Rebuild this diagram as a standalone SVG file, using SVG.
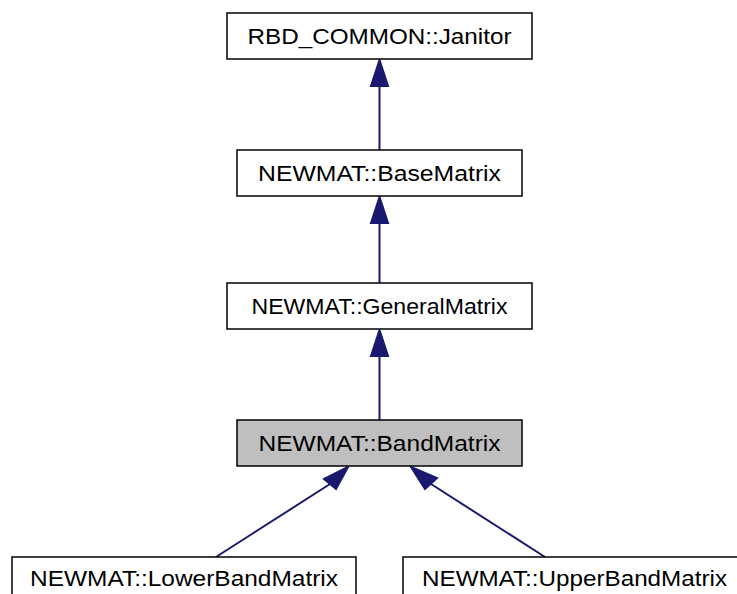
<svg xmlns="http://www.w3.org/2000/svg" width="737" height="594" viewBox="0 0 737 594">
<style>
.box{fill:#ffffff;stroke:#000000;stroke-width:1.5}
.cur{fill:#bfbfbf;stroke:#000000;stroke-width:1.5}
.lbl{font-family:"Liberation Sans",Arial,sans-serif;font-size:22px;fill:#000000;text-anchor:middle}
.edge{stroke:#191970;stroke-width:2;fill:none}
.head{fill:#191970;stroke:#191970;stroke-width:2}
</style>
<rect x="0" y="0" width="737" height="594" fill="#ffffff"/>
<g id="connectors">
<line class="edge" x1="379.5" y1="150" x2="379.5" y2="86"/>
<polygon class="head" points="379.5,60 371,86 388,86"/>
<line class="edge" x1="379.5" y1="283" x2="379.5" y2="223"/>
<polygon class="head" points="379.5,197 371,223 388,223"/>
<line class="edge" x1="379.5" y1="420" x2="379.5" y2="356"/>
<polygon class="head" points="379.5,330 371,356 388,356"/>
<line class="edge" x1="216" y1="557" x2="330" y2="484"/>
<polygon class="head" points="348,467 324,479 336,489"/>
<line class="edge" x1="545" y1="557" x2="431" y2="484"/>
<polygon class="head" points="411,467 425,489 437,478"/>
</g>
<g id="node-janitor">
<rect class="box" x="227" y="13" width="305" height="46"/>
<text class="lbl" x="379.5" y="44" textLength="264" lengthAdjust="spacingAndGlyphs">RBD_COMMON::Janitor</text>
</g>
<g id="node-basematrix">
<rect class="box" x="237" y="150" width="285" height="46"/>
<text class="lbl" x="379.5" y="181" textLength="243" lengthAdjust="spacingAndGlyphs">NEWMAT::BaseMatrix</text>
</g>
<g id="node-generalmatrix">
<rect class="box" x="227" y="283" width="305" height="46"/>
<text class="lbl" x="379.5" y="314" textLength="256" lengthAdjust="spacingAndGlyphs">NEWMAT::GeneralMatrix</text>
</g>
<g id="node-bandmatrix">
<rect class="cur" x="237" y="420" width="285" height="46"/>
<text class="lbl" x="379.5" y="451" textLength="242" lengthAdjust="spacingAndGlyphs">NEWMAT::BandMatrix</text>
</g>
<g id="node-lowerbandmatrix">
<rect class="box" x="12" y="557" width="344" height="46"/>
<text class="lbl" x="184" y="586" textLength="308" lengthAdjust="spacingAndGlyphs">NEWMAT::LowerBandMatrix</text>
</g>
<g id="node-upperbandmatrix">
<rect class="box" x="403" y="557" width="344" height="46"/>
<text class="lbl" x="574.5" y="586" textLength="305" lengthAdjust="spacingAndGlyphs">NEWMAT::UpperBandMatrix</text>
</g>
</svg>
